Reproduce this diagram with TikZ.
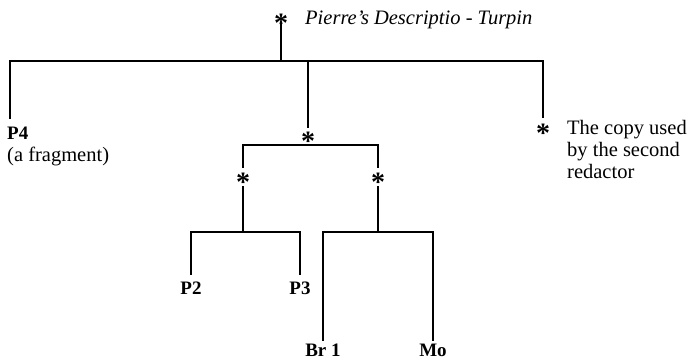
\documentclass[tikz,border=0pt]{standalone}
\usepackage{fontspec}
\setmainfont{Liberation Serif}
\begin{document}
\begin{tikzpicture}[x=1pt,y=-1pt,
  ln/.style={line width=2.2pt,line cap=rect,line join=miter},
  astnode/.style={anchor=base,inner sep=0pt,font=\fontsize{28}{28}\selectfont\bfseries},
  sigil/.style={anchor=base,inner sep=0pt,font=\fontsize{19}{19}\selectfont\bfseries},
  note/.style={anchor=base west,inner sep=0pt,align=left,font=\fontsize{20.5}{22}\selectfont},
  ttl/.style={anchor=base west,inner sep=0pt,font=\fontsize{20.5}{22}\selectfont\itshape}]
\path[use as bounding box,fill=white] (0,0) rectangle (693,361);
% stars
\node[astnode] (s0) at (281,32.5) {*};
\node[astnode] (s1) at (308,150.5) {*};
\node[astnode] (sL) at (243,191.5) {*};
\node[astnode] (sR) at (378,191.5) {*};
\node[astnode] (s2) at (543,142.5) {*};
% texts
\node[ttl] (title) at (305,25) {Pierre's Descriptio - Turpin};
\node[sigil,anchor=base west] (p4) at (7,139) {P4};
\node[note] (p4n) at (7,161) {(a fragment)};
\node[note] (s2n) at (567,178) {The copy used\\by the second\\redactor};
\node[sigil] (p2) at (191,294.5) {P2};
\node[sigil] (p3) at (300,294.5) {P3};
\node[sigil] (br) at (323,356.5) {Br 1};
\node[sigil] (mo) at (433,356.5) {Mo};
% coordinates
\coordinate (c0a) at (281,25);
\coordinate (c0) at (281,61);
\coordinate (hR) at (543,61);
\coordinate (p4t) at (10,118);
\coordinate (s2t) at (543,117);
\coordinate (m0) at (308,61);
\coordinate (m1) at (308,127);
\coordinate (sLt) at (243,167);
\coordinate (b2R) at (378,145);
\coordinate (sRt) at (378,167);
\coordinate (sLb) at (243,187);
\coordinate (gL) at (243,232);
\coordinate (sRb) at (378,187);
\coordinate (gR) at (378,232);
\coordinate (p2t) at (191,274);
\coordinate (g1R) at (300,232);
\coordinate (p3t) at (300,274);
\coordinate (brt) at (323,340);
\coordinate (g2R) at (433,232);
\coordinate (mot) at (433,340);
% lines
\draw[ln] (c0a) -- (c0);
\draw[ln] (p4t) |- (hR) -- (s2t);
\draw[ln] (m0) -- (m1);
\draw[ln] (sLt) |- (b2R) -- (sRt);
\draw[ln] (sLb) -- (gL);
\draw[ln] (sRb) -- (gR);
\draw[ln] (p2t) |- (g1R) -- (p3t);
\draw[ln] (brt) |- (g2R) -- (mot);
\end{tikzpicture}
\end{document}
